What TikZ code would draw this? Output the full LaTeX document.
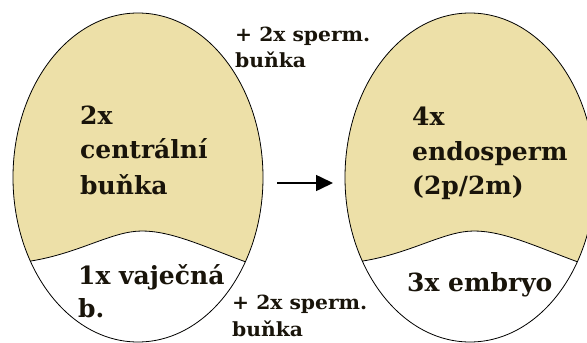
\documentclass[tikz,border=0pt]{standalone}
\usepackage{fontspec}
\setmainfont{DejaVu Serif}
\usetikzlibrary{arrows.meta}
\definecolor{tanfill}{RGB}{237,224,168}
\definecolor{txt}{RGB}{25,20,10}
\tikzset{
  eggline/.style={draw=black, line width=0.8pt},
  bigtxt/.style={anchor=base west, inner sep=0pt, text=txt, font=\bfseries\fontsize{25}{30}\selectfont},
  smalltxt/.style={anchor=base west, inner sep=0pt, text=txt, font=\bfseries\fontsize{19.5}{23}\selectfont},
  arrowline/.style={line width=1.6pt, -{Triangle[length=17pt,width=16pt]}}
}
\newcommand{\stretchtxt}[1]{\scalebox{1.0}[1]{#1}}
\newcommand{\stretchsmall}[1]{\scalebox{1.04}[1]{#1}}
\newcommand{\drawegg}[1]{%
  \begin{scope}[xshift=#1pt]
    \fill[tanfill] (0,177.5) ellipse [x radius=125pt, y radius=164.5pt];
    \begin{scope}
      \clip (0,177.5) ellipse [x radius=125pt, y radius=164.5pt];
      \fill[white] (-140,272) -- (-107,261) .. controls (-58,253) and (-26,231) .. (4,231)
        .. controls (34,231) and (67,247) .. (108,262) -- (140,272) -- (140,360) -- (-140,360) -- cycle;
      \draw[eggline] (-140,272) -- (-107,261) .. controls (-58,253) and (-26,231) .. (4,231)
        .. controls (34,231) and (67,247) .. (108,262) -- (140,272);
    \end{scope}
    \draw[eggline] (0,177.5) ellipse [x radius=125pt, y radius=164.5pt];
  \end{scope}}
\begin{document}
\begin{tikzpicture}[x=1pt,y=-1pt]
\useasboundingbox (0,0) rectangle (587,343);
\drawegg{138}
\drawegg{470}
% left egg texts
\node[bigtxt] (l1) at (80,124) {\stretchtxt{2x}};
\node[bigtxt] (l2) at (80,158.5) {\stretchtxt{centrální}};
\node[bigtxt] (l3) at (80,194) {\stretchtxt{buňka}};
\node[bigtxt] (l4) at (78,284.5) {\stretchtxt{1x vaječná}};
\node[bigtxt] (l5) at (78,317.5) {\stretchtxt{b.}};
% right egg texts
\node[bigtxt] (r1) at (412,125) {\stretchtxt{4x}};
\node[bigtxt] (r2) at (412,160) {\stretchtxt{endosperm}};
\node[bigtxt] (r3) at (412,194) {\stretchtxt{(2p/2m)}};
\node[bigtxt] (r4) at (407,291.5) {\stretchtxt{3x embryo}};
% sperm labels
\node[smalltxt] (s1) at (235,41) {\stretchsmall{+ 2x sperm.}};
\node[smalltxt] (s2) at (235,67) {\stretchsmall{buňka}};
\node[smalltxt] (s3) at (232,309) {\stretchsmall{+ 2x sperm.}};
\node[smalltxt] (s4) at (232,336) {\stretchsmall{buňka}};
% arrow
\coordinate (aS) at (277,183);
\coordinate (aE) at (333,183);
\draw[arrowline] (aS) -- (aE);
\end{tikzpicture}
\end{document}
